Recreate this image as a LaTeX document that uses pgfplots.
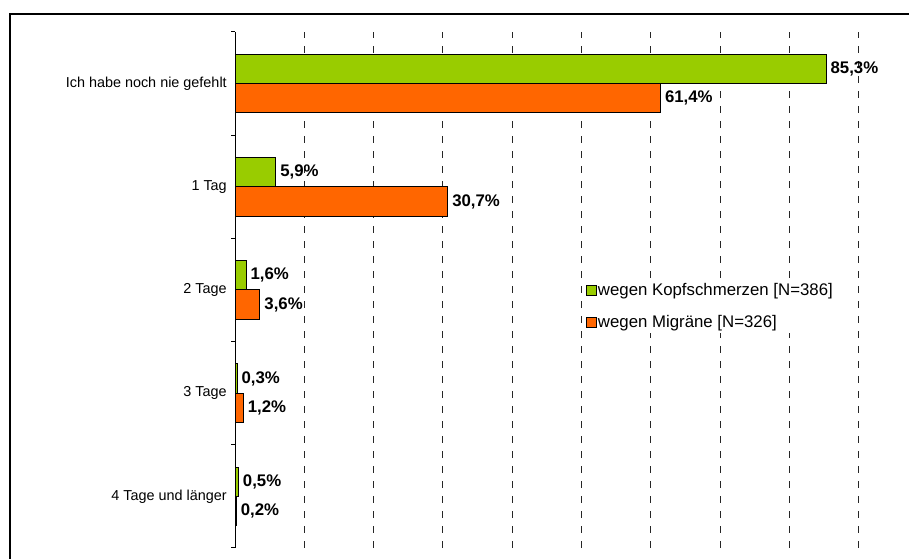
\documentclass[border=0pt]{standalone}
\usepackage{pgfplots}
\pgfplotsset{compat=1.18}
\usepackage{fontspec}
\setmainfont{Liberation Sans}
\definecolor{kgreen}{HTML}{99CC00}
\definecolor{morange}{HTML}{FF6600}
\begin{document}
\begin{tikzpicture}
\useasboundingbox (0,0) rectangle (681.75pt,419.25pt);
\clip (0,0) rectangle (681.75pt,419.25pt);
\draw[line width=1.5pt] (7.5pt,-5pt) -- (7.5pt,408.75pt) -- (690pt,408.75pt);
\begin{axis}[
  at={(176.25pt,8.25pt)}, anchor=south west,
  scale only axis, width=519.75pt, height=387pt,
  xbar, bar width=22pt,
  xmin=0, xmax=100, ymin=-0.5, ymax=4.5,
  axis y line*=left, axis x line*=bottom,
  x axis line style={draw=none},
  y axis line style={line width=0.75pt},
  major tick length=0pt,
  xtick={10,20,...,90}, xticklabels={},
  xmajorgrids,
  major grid style={black!85, line width=0.75pt, dash pattern=on 5.25pt off 6pt},
  ytick={0,...,4},
  yticklabels={4 Tage und länger, 3 Tage, 2 Tage, 1 Tag, Ich habe noch nie gefehlt},
  yticklabel style={font=\fontsize{10.8}{13}\selectfont, inner sep=0pt, xshift=-6pt},
  extra y ticks={-0.5,0.5,...,4.5}, extra y tick labels={},
  extra y tick style={tick align=outside, major tick length=3pt, major tick style={black, line width=0.75pt}},
  point meta=x,
  nodes near coords={\pgfmathprintnumber[fixed,fixed zerofill,precision=1,use comma,assume math mode=true]{\pgfplotspointmeta}\%},
  nodes near coords style={font=\bfseries\fontsize{12.6}{14}\selectfont, inner sep=3pt, black},
  legend style={at={(0.502,0.469)}, anchor=west, draw=none, fill=white,
    font=\fontsize{12.6}{15}\selectfont, row sep=11.25pt, inner sep=2pt,
    nodes={inner sep=1pt}},
  legend cell align=left,
  legend image code/.code={\draw[#1, draw=black, line width=0.6pt] (0pt,-3.75pt) rectangle (7.5pt,3.75pt);},
]
\addplot[fill=kgreen, draw=black, line width=0.75pt, bar shift=11pt]
  coordinates {(85.3,4) (5.9,3) (1.6,2) (0.3,1) (0.5,0)};
\addplot[fill=morange, draw=black, line width=0.75pt, bar shift=-11pt]
  coordinates {(61.4,4) (30.7,3) (3.6,2) (1.2,1) (0.2,0)};
\legend{wegen Kopfschmerzen {[N=386]}, wegen Migräne {[N=326]}}
\end{axis}
\end{tikzpicture}
\end{document}
